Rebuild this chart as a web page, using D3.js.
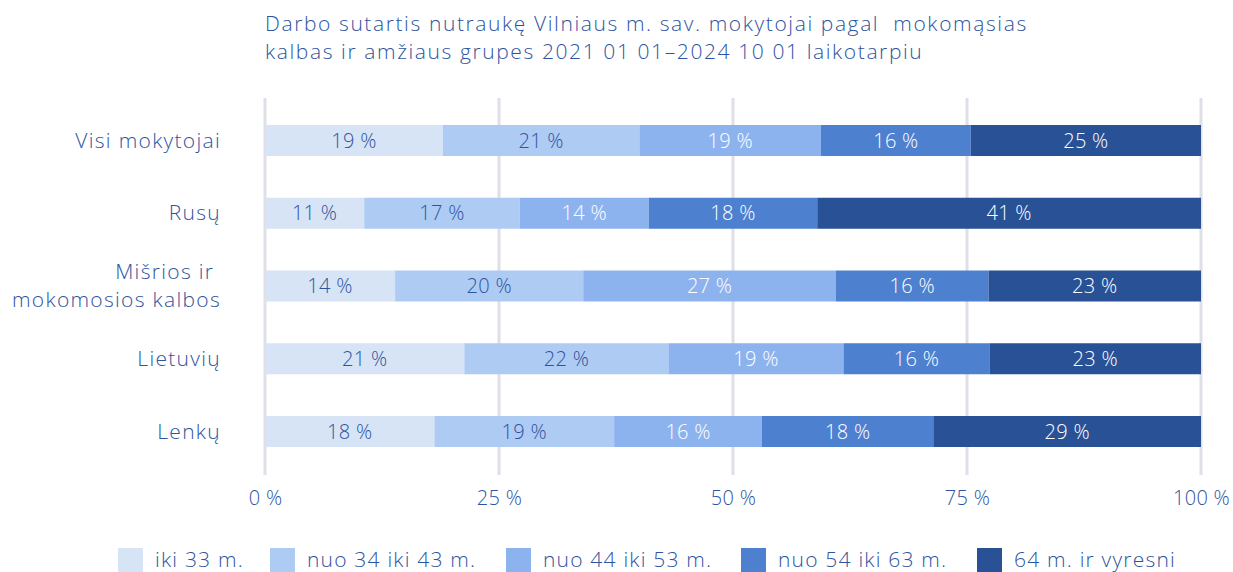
<!DOCTYPE html>
<meta charset="utf-8">
<style>
	body { margin: 0; background: #fff; font-family: "Open Sans", "Noto Sans", sans-serif; font-weight: 300; }
	svg text { fill: #2e54a0; font-family: "Open Sans", "Noto Sans", sans-serif; font-weight: 300; white-space: pre; }
	.grid line { stroke: #dfdfe8; stroke-width: 3px; }
</style>
<body>
<svg id="chart" width="1233" height="572"></svg>
<script src="https://cdn.jsdelivr.net/npm/d3@7"></script>
<script>
	var categories = ["Visi mokytojai", "Rusų", "Mišrios ir |mokomosios kalbos", "Lietuvių", "Lenkų"];
	var groups = ["iki 33 m.", "nuo 34 iki 43 m.", "nuo 44 iki 53 m.", "nuo 54 iki 63 m.", "64 m. ir vyresni"];
	// shares by category, one array per age group
	var age33 = [19.0, 10.6, 13.9, 21.3, 18.1];
	var age34_43 = [21.0, 16.6, 20.1, 21.8, 19.2];
	var age44_53 = [19.4, 13.8, 27.0, 18.7, 15.8];
	var age54_63 = [16.0, 18.0, 16.3, 15.6, 18.3];
	var age64 = [24.6, 41.0, 22.7, 22.6, 28.6];
	var ticks = [0, 25, 50, 75, 100];
	var colors = ["#d6e4f6", "#aecbf3", "#8db3ef", "#4e80d0", "#285196"];
	var labelColors = ["#2e54a0", "#2e54a0", "#fff", "#fff", "#fff"];

	var series = [age33, age34_43, age44_53, age54_63, age64];
	var rows = categories.map(function(c, i) {
		var r = { cat: c };
		groups.forEach(function(g, j) { r[g] = series[j][i]; });
		return r;
	});

	var svg = d3.select("#chart");
	var x = d3.scaleLinear().domain([0, 100]).range([265, 1201]);
	var y = d3.scalePoint().domain(categories).range([140.5, 431.5]);
	var barH = 31;

	// title
	var title = svg.append("text").attr("x", 265).attr("y", 31)
		.style("font-size", "21px").style("letter-spacing", "1.6px");
	title.append("tspan").attr("x", 265).text("Darbo sutartis nutraukę Vilniaus m. sav. mokytojai pagal  mokomąsias");
	title.append("tspan").attr("x", 265).attr("dy", 28).text("kalbas ir amžiaus grupes 2021 01 01–2024 10 01 laikotarpiu");

	// grid
	svg.append("g").attr("class", "grid")
		.selectAll("line").data(ticks).join("line")
		.attr("x1", function(d) { return x(d); }).attr("x2", function(d) { return x(d); })
		.attr("y1", 98).attr("y2", 475);

	var stack = d3.stack().keys(groups)(rows);

	var layer = svg.append("g").selectAll("g").data(stack).join("g")
		.attr("fill", function(d, i) { return colors[i]; });

	layer.selectAll("rect").data(function(d) { return d; }).join("rect")
		.attr("x", function(d) { return x(d[0]); })
		.attr("width", function(d) { return x(d[1]) - x(d[0]); })
		.attr("y", function(d) { return y(d.data.cat) - barH / 2; })
		.attr("height", barH);

	stack.forEach(function(s, i) {
		svg.append("g").selectAll("text").data(s).join("text")
			.attr("x", function(d) { return (x(d[0]) + x(d[1])) / 2; })
			.attr("y", function(d) { return y(d.data.cat) + 7; })
			.attr("text-anchor", "middle")
			.style("font-size", "20px")
			.style("letter-spacing", "0.3px")
			.style("fill", labelColors[i])
			.text(function(d) { return Math.round(d[1] - d[0]) + " %"; });
	});

	// category labels
	svg.append("g").selectAll("text").data(categories).join("text")
		.attr("text-anchor", "end")
		.style("font-size", "21px")
		.style("letter-spacing", "1.3px")
		.each(function(d) {
			var lines = d.split("|");
			var t = d3.select(this);
			var y0 = y(d) + 7 - (lines.length - 1) * 14;
			lines.forEach(function(l, k) {
				t.append("tspan").attr("x", 221).attr("y", y0 + k * 28).text(l);
			});
		});

	// x axis
	var xAxis = svg.append("g").attr("transform", "translate(0,495)")
		.call(d3.axisBottom(x).tickValues(ticks).tickSize(0).tickFormat(function(d) { return d + " %"; }));
	xAxis.select(".domain").remove();
	xAxis.selectAll("text").attr("dy", 7).style("font-size", "20px").style("letter-spacing", "0.3px");

	// legend
	var legX = [118, 270, 506, 741, 977];
	var leg = svg.append("g").selectAll("g").data(groups).join("g")
		.attr("transform", function(d, i) { return "translate(" + legX[i] + ",548)"; });
	leg.append("rect").attr("width", 25).attr("height", 25).attr("fill", function(d, i) { return colors[i]; });
	leg.append("text").attr("x", 37).attr("y", 19).style("font-size", "21px").style("letter-spacing", "1.2px")
		.text(function(d) { return d; });
</script>
</body>
